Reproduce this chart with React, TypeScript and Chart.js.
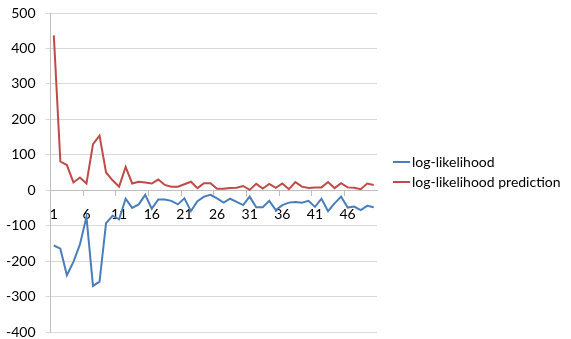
import React, { useEffect, useRef } from "react";
import { Chart, registerables } from "chart.js";

Chart.register(...registerables);

const categories = [
  "1", "2", "3", "4", "5", "6", "7", "8", "9", "10",
  "11", "12", "13", "14", "15", "16", "17", "18", "19", "20",
  "21", "22", "23", "24", "25", "26", "27", "28", "29", "30",
  "31", "32", "33", "34", "35", "36", "37", "38", "39", "40",
  "41", "42", "43", "44", "45", "46", "47", "48", "49", "50",
];

const logLikelihood = [
  -156, -165, -240, -202, -153, -75, -270, -258, -93, -72,
  -82, -24, -50, -40, -13, -52, -26, -26, -30, -40,
  -23, -59, -31, -18, -13, -23, -35, -24, -33, -42,
  -18, -48, -48, -30, -56, -42, -35, -33, -35, -30,
  -47, -24, -59, -37, -18, -49, -46, -56, -44, -48,
];

const logLikelihoodPrediction = [
  437, 81, 71, 22, 36, 19, 130, 154, 50, 28,
  10, 66, 19, 24, 22, 19, 30, 15, 10, 10,
  17, 24, 6, 20, 20, 4, 4, 6, 7, 12,
  1, 18, 5, 18, 7, 19, 3, 23, 10, 6,
  8, 8, 23, 6, 20, 8, 7, 3, 19, 15,
];

const seriesNames = ["log-likelihood", "log-likelihood prediction"];
const seriesColors = ["#4a7ebb", "#be4b48"];

const yMin = -400;
const yMax = 500;
const yStep = 100;
const labelEvery = 5;

const FONT_FAMILY = "Lato, 'Open Sans', sans-serif";
const FONT = { family: FONT_FAMILY, size: 14 };

export default function App() {
  const ref = useRef<HTMLCanvasElement>(null);

  useEffect(() => {
    document.body.style.margin = "0";
    const canvas = ref.current;
    if (!canvas) return;
    const chart = new Chart(canvas, {
      type: "line",
      data: {
        labels: categories,
        datasets: [
          {
            label: seriesNames[0],
            data: logLikelihood,
            borderColor: seriesColors[0],
            backgroundColor: seriesColors[0],
            borderWidth: 2,
            pointRadius: 0,
            tension: 0,
          },
          {
            label: seriesNames[1],
            data: logLikelihoodPrediction,
            borderColor: seriesColors[1],
            backgroundColor: seriesColors[1],
            borderWidth: 2,
            pointRadius: 0,
            tension: 0,
          },
        ],
      },
      options: {
        animation: false,
        responsive: false,
        maintainAspectRatio: false,
        layout: { padding: { top: 13, left: -4, right: 194, bottom: 7 } },
        plugins: {
          tooltip: { enabled: false },
          legend: { display: false },
        },
        scales: {
          x: {
            position: { y: 0 },
            offset: true,
            grid: {
              offset: true,
              drawOnChartArea: false,
              tickLength: 5,
              color: (ctx: any) => (ctx.index % labelEvery === 0 ? "#bfbfbf" : "rgba(0,0,0,0)"),
            },
            border: { display: true, color: "#bfbfbf" },
            ticks: {
              autoSkip: false,
              maxRotation: 0,
              padding: 11,
              color: "#000",
              font: FONT,
              callback: (_v: any, i: number) => (i % labelEvery === 0 ? categories[i] : ""),
            },
          },
          y: {
            min: yMin,
            max: yMax,
            afterFit: (scale: any) => {
              scale.paddingTop = 0;
              scale.paddingBottom = 0;
            },
            grid: { color: "#d9d9d9", tickLength: 5 },
            border: { display: true, color: "#bfbfbf" },
            ticks: {
              stepSize: yStep,
              padding: 10,
              color: "#000",
              font: FONT,
            },
          },
        },
      },
    });
    return () => chart.destroy();
  }, []);

  return (
    <div style={{ position: "relative", width: 571, height: 339, background: "#fff" }}>
      <canvas ref={ref} width={571} height={339} style={{ display: "block", width: 571, height: 339 }} />
      <div
        style={{
          position: "absolute",
          left: 393,
          top: 152,
          fontFamily: FONT_FAMILY,
          fontSize: 14,
          color: "#000",
          lineHeight: "20px",
        }}
      >
        {seriesNames.map((name, i) => (
          <div key={name} style={{ display: "flex", alignItems: "center", height: 20, whiteSpace: "nowrap" }}>
            <span style={{ display: "inline-block", width: 17, height: 2, background: seriesColors[i], marginRight: 2 }} />
            <span>{name}</span>
          </div>
        ))}
      </div>
    </div>
  );
}
